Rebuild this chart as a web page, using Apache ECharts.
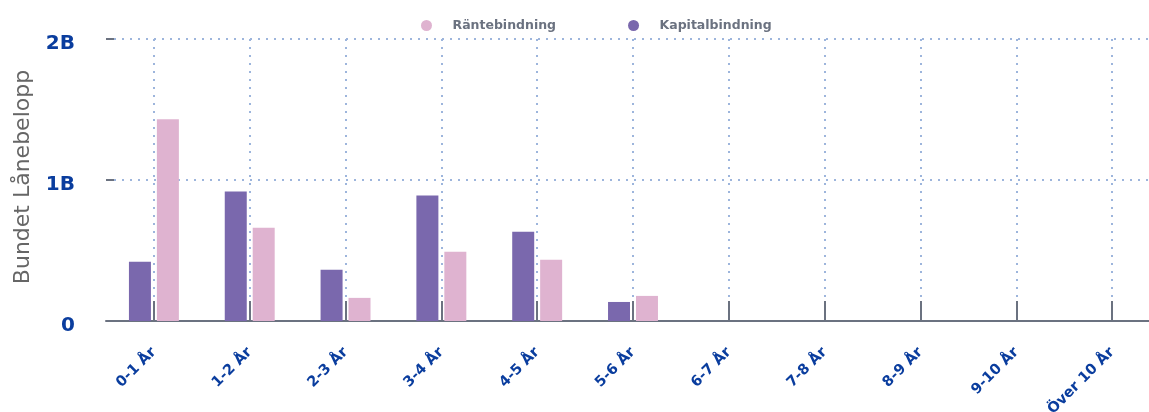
<!DOCTYPE html>
<html>
<head>
<meta charset="utf-8">
<script src="https://cdn.jsdelivr.net/npm/echarts@6/dist/echarts.min.js"></script>
<style>html,body{margin:0;padding:0;background:#fff}#c{width:1149px;height:412px}</style>
</head>
<body>
<div id="c"></div>
<script>
const categories = ['0-1 År','1-2 År','2-3 År','3-4 År','4-5 År','5-6 År','6-7 År','7-8 År','8-9 År','9-10 År','Över 10 År'];
const kapitalbindning = [0.42e9, 0.918e9, 0.363e9, 0.89e9, 0.633e9, 0.135e9, 0, 0, 0, 0, 0];
const rantebindning = [1.43e9, 0.662e9, 0.164e9, 0.491e9, 0.434e9, 0.178e9, 0, 0, 0, 0, 0];
const legendNames = ['Räntebindning', 'Kapitalbindning'];

const chart = echarts.init(document.getElementById('c'));
const blue = '#0a3d9e';
const gray = '#6b7280';
const dot = '#9db5dc';
chart.setOption({
  animation: false,
  legend: {
    data: legendNames,
    top: 14,
    left: 416,
    icon: 'circle',
    itemWidth: 42,
    itemHeight: 11,
    symbolKeepAspect: true,
    itemGap: 72,
    textStyle: {color: gray, fontSize: 12.5, fontWeight: 'bold', fontFamily: 'DejaVu Sans'}
  },
  grid: {left: 106, right: -11, top: 39, bottom: 91, containLabel: false, outerBoundsMode: 'none'},
  xAxis: {
    type: 'category',
    data: categories,
    boundaryGap: true,
    axisLine: {show: true, lineStyle: {color: gray, width: 2}},
    axisTick: {show: true, alignWithLabel: true, inside: true, length: 20, lineStyle: {color: gray, width: 2}},
    splitLine: {show: true, alignWithLabel: true, lineStyle: {color: dot, type: [2, 6], width: 2}},
    axisLabel: {rotate: 45, margin: 29, color: blue, fontWeight: 'bold', fontSize: 14.5, fontFamily: 'DejaVu Sans', interval: 0}
  },
  yAxis: {
    type: 'value',
    min: 0, max: 2e9, interval: 1e9,
    name: 'Bundet Lånebelopp',
    nameLocation: 'middle',
    nameGap: 72,
    nameTextStyle: {color: '#666666', fontSize: 22, fontFamily: 'DejaVu Sans', padding: [0, 0, 0, 6]},
    axisLine: {show: false},
    axisTick: {show: true, inside: true, length: 8, lineStyle: {color: gray, width: 2}},
    splitLine: {show: true, lineStyle: {color: dot, type: [2, 6], width: 2}},
    axisLabel: {margin: 31, verticalAlign: 'top', lineHeight: 9, color: blue, fontWeight: 'bold', fontSize: 20, fontFamily: 'DejaVu Sans',
      formatter: v => v === 0 ? '0' : (v / 1e9) + 'B'}
  },
  series: [
    {name: 'Kapitalbindning', type: 'bar', data: kapitalbindning, barWidth: 22, barGap: '27%', itemStyle: {color: '#7a68ad'}},
    {name: 'Räntebindning', type: 'bar', data: rantebindning, barWidth: 22, barGap: '27%', itemStyle: {color: '#dfb3d0'}}
  ]
});
</script>
</body>
</html>
